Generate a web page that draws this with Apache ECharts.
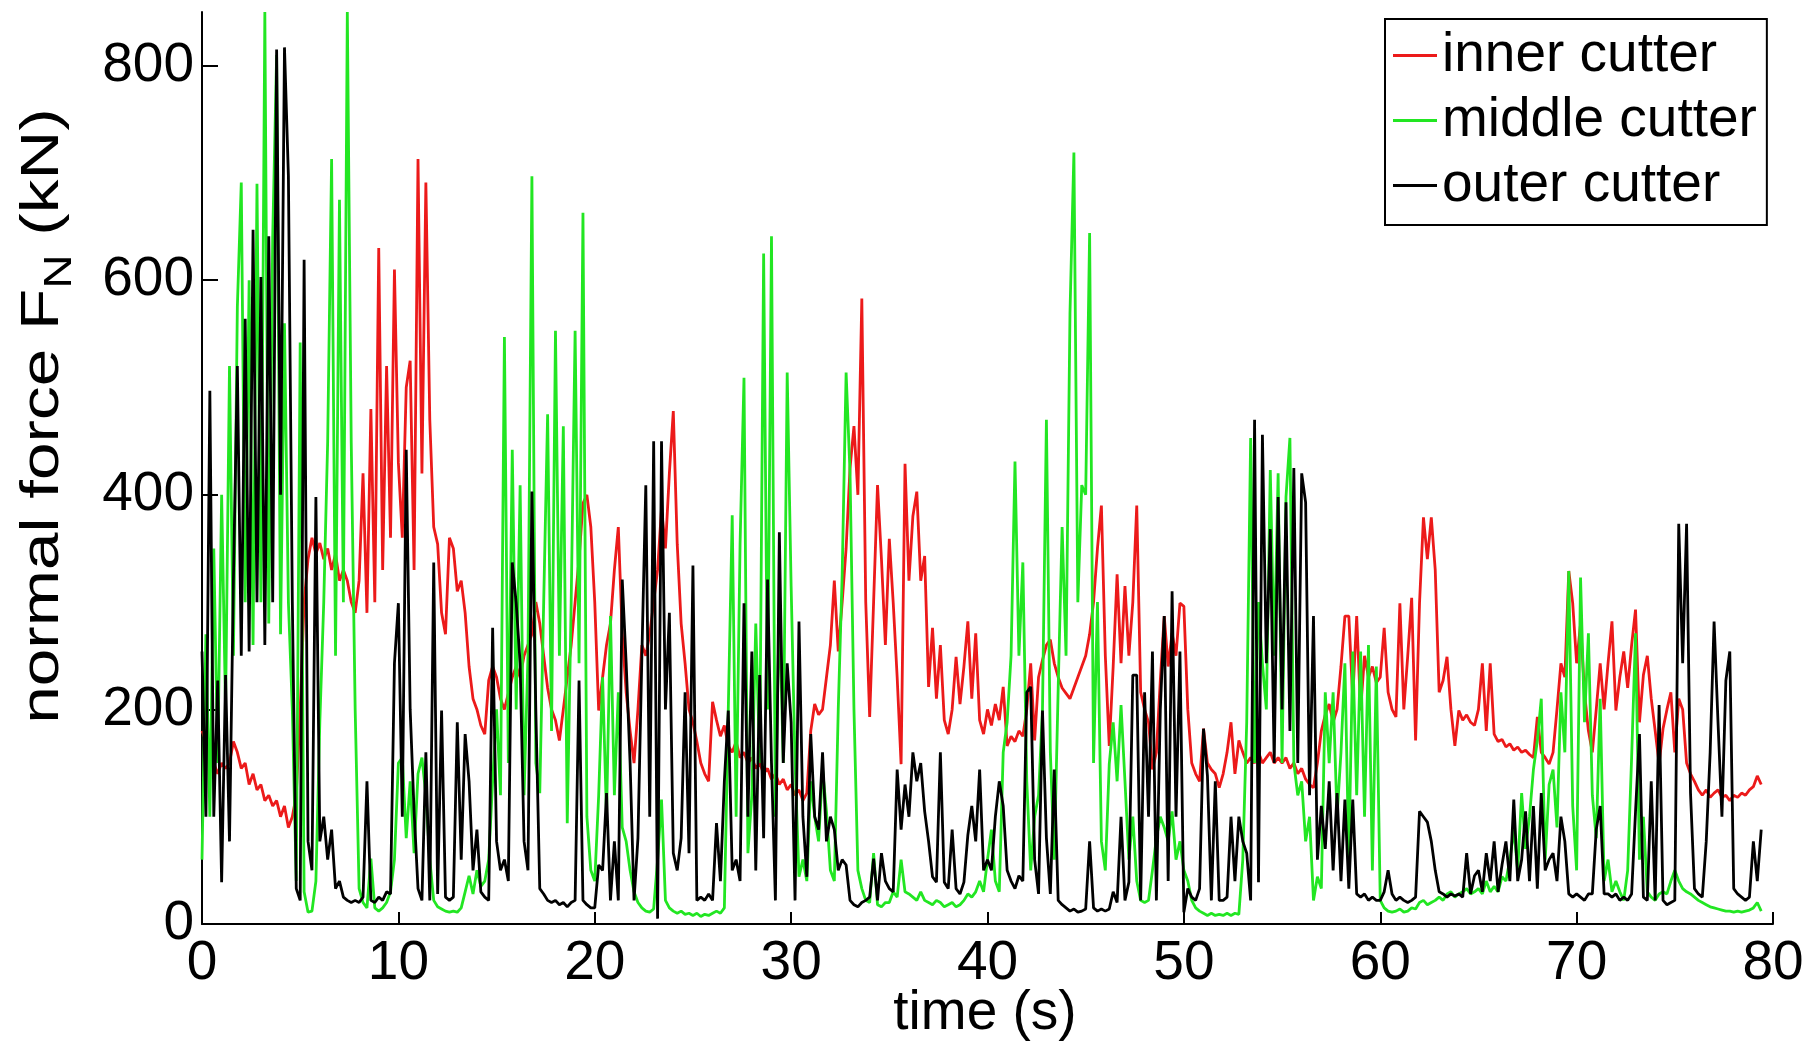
<!DOCTYPE html>
<html><head><meta charset="utf-8">
<script src="https://cdn.jsdelivr.net/npm/echarts@6/dist/echarts.min.js"></script>
<style>html,body{margin:0;padding:0;background:#fff}#c{width:1818px;height:1044px}</style>
</head><body><div id="c"></div>
<script>
const dt = 0.2;

// inner cutter (kN), t = 0 .. 79.4 s
const inner = [
180,170,160,150,140,150,145,150,170,160,145,150,130,140,125,130,115,120,110,115,100,110,90,100,120,
200,300,340,360,345,355,340,350,330,345,320,330,320,300,290,320,420,290,480,300,630,330,520,360,610,
430,360,500,525,330,713,420,691,470,370,354,290,270,360,350,310,320,290,240,210,200,185,177,227,240,
230,210,200,215,230,240,230,250,260,270,300,280,250,220,200,190,171,200,230,260,300,340,392,400,370,
300,199,230,260,280,330,370,271,216,180,150,200,260,250,270,300,330,387,350,420,478,354,280,243,200,
188,170,150,140,133,207,190,175,185,166,160,170,155,160,150,155,145,150,140,145,135,140,130,135,125,
130,120,125,115,122,180,205,195,200,230,260,320,254,300,350,425,464,400,583,300,193,300,409,340,260,
359,299,230,149,429,320,380,403,320,343,221,276,210,260,190,177,200,249,205,240,282,210,271,190,177,
200,185,205,190,221,166,175,170,180,175,200,243,171,230,246,260,265,243,230,220,215,210,220,230,240,
250,270,300,350,390,250,166,240,326,243,315,250,300,390,216,200,188,144,160,227,287,240,271,250,299,
296,200,150,140,133,182,150,144,140,127,140,160,188,140,171,160,150,155,150,160,150,155,160,150,155,
150,155,145,150,140,145,135,130,127,150,180,195,205,188,200,240,287,287,210,287,199,250,230,240,225,
230,276,216,200,193,299,200,250,304,171,299,379,340,379,330,216,227,249,200,166,199,190,195,188,185,
200,243,180,243,177,170,172,165,168,162,165,160,162,158,155,193,160,155,149,160,200,243,230,329,299,
243,280,216,180,160,200,243,200,243,282,199,230,254,220,260,293,188,232,250,210,180,149,182,200,216,
160,210,200,150,140,133,125,120,125,118,122,125,118,120,115,120,118,122,120,125,128,138,130
];

// middle cutter (kN)
const middle = [
60,270,100,350,150,400,200,520,250,575,691,300,600,260,690,300,850,280,640,810,270,560,300,200,40,
542,30,11,12,40,188,300,450,713,250,675,300,850,448,200,33,20,15,61,15,12,15,20,30,60,
150,155,80,133,66,140,155,120,60,22,16,14,12,11,12,11,15,30,45,28,50,35,40,60,133,
200,120,547,150,442,200,409,120,250,697,150,122,300,475,180,553,250,464,94,300,553,243,663,100,50,
40,120,230,100,287,120,216,90,77,50,30,20,15,12,11,14,60,116,22,15,12,10,12,9,10,
8,10,7,9,8,10,12,10,15,200,381,100,354,509,66,120,280,150,625,200,641,100,300,150,514,
315,150,44,60,40,133,100,77,144,105,50,40,200,326,514,420,200,50,33,22,20,66,18,16,20,
20,30,25,60,30,28,25,22,30,22,20,18,22,20,16,18,20,16,18,22,28,25,30,40,30,
60,88,40,30,160,188,250,431,250,337,133,50,100,120,200,470,160,60,220,370,250,569,719,300,409,
400,644,150,300,77,50,149,188,133,204,133,60,100,40,22,20,22,50,80,100,90,77,105,60,77,
50,40,22,15,12,10,8,10,8,9,8,10,8,10,9,60,188,453,150,300,243,200,423,250,420,
150,398,453,150,120,133,77,100,22,44,33,216,150,216,100,160,243,60,254,120,254,100,260,50,240,
22,15,12,11,12,14,11,12,15,14,20,22,18,20,22,25,22,28,30,25,28,30,33,28,30,
33,28,40,30,35,30,44,40,60,88,50,122,70,100,144,171,210,60,130,144,90,216,160,329,110,
50,323,188,271,120,80,210,40,60,30,40,30,22,50,155,271,60,100,30,25,22,28,30,28,40,
50,40,33,30,28,25,22,20,18,16,15,14,13,12,12,11,12,11,12,13,15,20,12
];

// outer cutter (kN)
const outer = [
254,100,497,100,227,39,232,77,321,520,250,564,254,647,300,603,260,641,300,815,400,817,697,300,33,
22,619,77,50,398,77,100,60,88,33,40,25,22,20,22,20,25,133,22,20,25,22,30,28,243,
299,100,442,200,105,33,22,160,22,337,28,199,25,22,25,188,60,177,133,50,88,30,25,22,276,
77,50,60,40,337,299,243,77,50,403,199,33,28,22,20,22,18,20,16,20,22,227,22,18,15,
15,55,50,122,22,77,22,321,243,150,22,80,250,409,100,450,5,450,200,290,66,50,80,216,66,
334,22,25,22,28,22,94,40,133,199,50,60,40,299,100,254,50,232,80,321,150,22,365,150,243,
188,22,282,100,44,177,100,88,160,77,100,88,50,60,55,22,18,16,20,22,25,61,22,66,40,
33,30,144,88,130,100,160,133,150,105,77,44,39,160,39,33,88,33,28,39,83,110,77,144,50,
60,50,100,133,110,50,40,33,45,40,216,221,60,28,199,80,28,144,22,18,15,12,14,11,12,
14,77,15,12,14,12,14,30,20,100,22,39,232,232,22,216,100,254,22,200,287,40,310,100,254,
11,33,25,22,33,182,138,22,133,22,22,25,100,40,100,77,66,22,470,39,456,243,368,150,398,
200,393,180,425,150,420,393,120,287,60,110,70,133,50,122,40,116,33,116,28,25,28,22,25,22,
22,30,50,28,22,25,22,20,22,25,105,100,95,77,50,30,28,25,28,26,28,25,66,28,45,
50,30,66,40,77,30,55,77,40,116,40,60,105,40,110,33,122,50,60,66,40,100,77,28,25,
28,25,22,28,28,88,110,28,28,25,28,22,25,22,28,105,177,25,22,133,22,204,22,18,20,
22,373,243,373,122,33,28,25,77,160,282,188,100,227,254,33,28,25,22,25,77,40,88
];

const seriesNames = ['inner cutter', 'middle cutter', 'outer cutter'];
const seriesColors = ['#ec1a1a', '#22e622', '#000000'];
const yTicks = [0, 200, 400, 600, 800];
const xTitle = 'time (s)';
const yTitleMain = 'normal force F';
const yTitleSub = 'N';
const yTitleUnit = ' (kN)';

function toPairs(arr) { return arr.map((v, i) => [Math.round(i * dt * 10) / 10, v]); }

const FONT = '"Liberation Sans", Arial, Helvetica, sans-serif';
const LW = 2.8;
const chart = echarts.init(document.getElementById('c'), null, { renderer: 'canvas' });
chart.setOption({
  animation: false,
  backgroundColor: '#ffffff',
  grid: { left: 202, right: 45, top: 12, bottom: 120, containLabel: false },
  xAxis: {
    type: 'value', min: 0, max: 80, interval: 10,
    axisLine: { onZero: false, lineStyle: { color: '#000', width: 2 } },
    axisTick: { show: true, inside: true, length: 12, lineStyle: { color: '#000', width: 2 } },
    axisLabel: { fontSize: 55, color: '#000', fontFamily: FONT, margin: 12 },
    splitLine: { show: false }
  },
  yAxis: {
    type: 'value', min: 0, max: 850, interval: 200,
    axisLine: { show: true, lineStyle: { color: '#000', width: 2 } },
    axisTick: { show: true, inside: true, length: 16, customValues: yTicks, lineStyle: { color: '#000', width: 2 } },
    axisLabel: { fontSize: 55, color: '#000', fontFamily: FONT, margin: 8, customValues: yTicks },
    splitLine: { show: false }
  },
  legend: {
    orient: 'vertical', left: 1385, top: 19,
    itemWidth: 44, itemHeight: 3, icon: 'rect', itemGap: 10,
    padding: [9, 10, 12, 8],
    backgroundColor: '#fff', borderColor: '#000', borderWidth: 2, borderRadius: 0,
    textStyle: { fontSize: 55, color: '#000', fontFamily: FONT, lineHeight: 54 },
    data: seriesNames
  },
  graphic: [
    {
      type: 'text', x: 985, y: 1014, silent: true,
      style: { text: xTitle, fontSize: 55, fontFamily: FONT, fill: '#000', align: 'center', verticalAlign: 'middle' }
    },
    {
      type: 'text', x: 43, y: 416, rotation: Math.PI / 2, scaleX: 1.25, silent: true,
      style: {
        text: yTitleMain + '{sub|' + yTitleSub + '}' + yTitleUnit,
        fontSize: 54, fontFamily: FONT, fill: '#000', align: 'center', verticalAlign: 'middle',
        rich: { sub: { fontSize: 38, fontFamily: FONT, fill: '#000', padding: [35, 0, 0, 0] } }
      }
    }
  ],
  series: [
    { name: seriesNames[0], type: 'line', data: toPairs(inner), symbol: 'none', color: seriesColors[0], lineStyle: { width: LW, color: seriesColors[0] }, z: 2 },
    { name: seriesNames[1], type: 'line', data: toPairs(middle), symbol: 'none', color: seriesColors[1], lineStyle: { width: LW, color: seriesColors[1] }, z: 3 },
    { name: seriesNames[2], type: 'line', data: toPairs(outer), symbol: 'none', color: seriesColors[2], lineStyle: { width: LW, color: seriesColors[2] }, z: 4 }
  ]
});
</script>
</body></html>
